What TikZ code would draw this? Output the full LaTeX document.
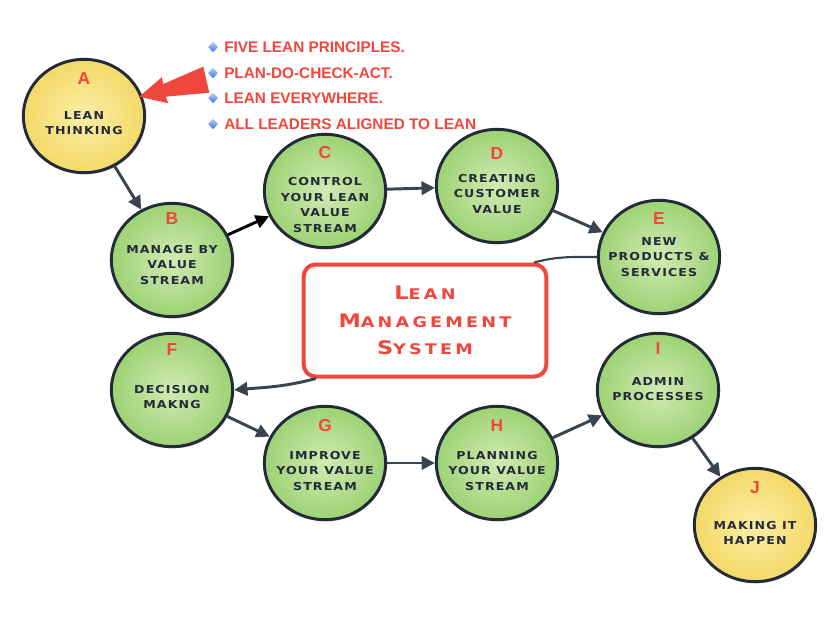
\documentclass[tikz,border=0pt]{standalone}
\usepackage{fontspec}
\usetikzlibrary{arrows.meta,shapes.geometric,shadows}
\newfontfamily\circfont[FakeStretch=1.15,LetterSpace=10]{DejaVu Sans}
\newfontfamily\boxfont[FakeStretch=1.2,LetterSpace=22]{DejaVu Sans}
\newfontfamily\labfont{Liberation Sans}
\definecolor{navy}{HTML}{232B3A}
\definecolor{labred}{HTML}{F0473D}
\definecolor{conncol}{HTML}{3A4450}
\definecolor{greenin}{HTML}{D2EBB4}
\definecolor{greenout}{HTML}{9DD274}
\definecolor{yelin}{HTML}{FBEEA6}
\definecolor{yelout}{HTML}{F4D968}
\definecolor{bulblue}{HTML}{3D74E0}
\newcommand\smc[2]{{\fontsize{14}{20.6}\selectfont #1}{\fontsize{11}{20.6}\selectfont #2}}
\newcommand\stage[8]{%
  \node[stage,#4] (#1) at (#2,#3) {};
  \node[lbl] (#1l) at ([yshift=#6*0.75pt]#1.center) {#5};
  \node[txt] (#1t) at ([yshift=#7*0.75pt]#1.center) {#8};
}
\tikzset{
  stage/.style={ellipse, draw=navy, line width=2.2pt, minimum width=91pt, minimum height=85pt, inner sep=0pt,
    drop shadow={shadow xshift=0.8pt, shadow yshift=-1.2pt, opacity=0.35, fill=black}},
  grn/.style={inner color=greenin, outer color=greenout},
  yel/.style={inner color=yelin, outer color=yelout},
  lbl/.style={inner sep=0pt, text=labred, font={\labfont\bfseries\fontsize{13}{13}\selectfont}},
  txt/.style={inner sep=0pt, align=center, text=navy, font={\circfont\bfseries\fontsize{8.2}{11.6}\selectfont}},
  conn/.style={draw=conncol, line width=2.2pt, -{Triangle[length=10pt,width=10pt]}},
  plain/.style={draw=conncol, line width=1.6pt},
  bul/.style={diamond, inner sep=0pt, minimum width=7.5pt, minimum height=8pt, top color=bulblue!35!white, bottom color=bulblue},
  btxt/.style={anchor=west, inner sep=0pt, text=labred, font={\labfont\bfseries\fontsize{11.5}{13}\selectfont}},
  mainbox/.style={draw=labred, line width=3pt, fill=white, rounded corners=9pt, minimum width=182pt, minimum height=84pt,
    inner sep=0pt, align=center, text=labred, font={\boxfont\bfseries\fontsize{11}{20.6}\selectfont}}
}
\begin{document}
\begin{tikzpicture}[x=0.75pt,y=0.75pt]
\useasboundingbox (0,0) rectangle (840,637);
\fill[white] (0,0) rectangle (840,637);

% central box
\node[mainbox] (box) at (425,316.5) {\smc{L}{EAN}\\\smc{M}{ANAGEMENT}\\\smc{S}{YSTEM}};

% stages
\stage{A}{84}{521}{yel}{A}{37}{-7}{LEAN\\THINKING}
\stage{B}{172}{377}{grn}{B}{41}{-5}{MANAGE BY\\VALUE\\STREAM}
\stage{C}{325}{446}{grn}{C}{38}{-14}{CONTROL\\YOUR LEAN\\VALUE\\STREAM}
\stage{D}{497}{451}{grn}{D}{32}{-8}{CREATING\\CUSTOMER\\VALUE}
\stage{E}{659}{380}{grn}{E}{38}{0}{NEW\\PRODUCTS \&\\SERVICES}
\stage{F}{172}{247}{grn}{F}{40}{-7}{DECISION\\MAKNG}
\stage{G}{325}{174}{grn}{G}{37}{-8}{IMPROVE\\YOUR VALUE\\STREAM}
\stage{H}{497}{174}{grn}{H}{37}{-8}{PLANNING\\YOUR VALUE\\STREAM}
\stage{I}{658}{247}{grn}{I}{41}{1}{ADMIN\\PROCESSES}
\stage{J}{755}{112}{yel}{J}{37}{-8}{MAKING IT\\HAPPEN}

% connectors
\draw[conn] (A) -- (B);
\draw[conn, draw=black] (B) -- (C);
\draw[conn] (C) -- (D);
\draw[conn] (D) -- (E);
\draw[plain] (E.west) to[out=180,in=15] (box.28.7);
\draw[conn] (box.208) to[out=195,in=5] (F.east);
\draw[conn] (F) -- (G);
\draw[conn] (G) -- (H);
\draw[conn] (H) -- (I);
\draw[conn] (I) -- (J);

% bullet list
\node[bul] (b1) at (213,590) {};
\node[bul] (b2) at (213,564) {};
\node[bul] (b3) at (213,539) {};
\node[bul] (b4) at (213,513) {};
\node[btxt] (t1) at (224,590) {FIVE LEAN PRINCIPLES.};
\node[btxt] (t2) at (224,564) {PLAN-DO-CHECK-ACT.};
\node[btxt] (t3) at (224,539) {LEAN EVERYWHERE.};
\node[btxt] (t4) at (224,513) {ALL LEADERS ALIGNED TO LEAN};

% red block arrow
\fill[labred] (139.3,540.3) -- (161.7,559.7) -- (163.3,553) -- (203.3,570.3) -- (209.3,544.3) -- (165.7,540.3) -- (168.3,533.7) -- cycle;
\end{tikzpicture}
\end{document}
